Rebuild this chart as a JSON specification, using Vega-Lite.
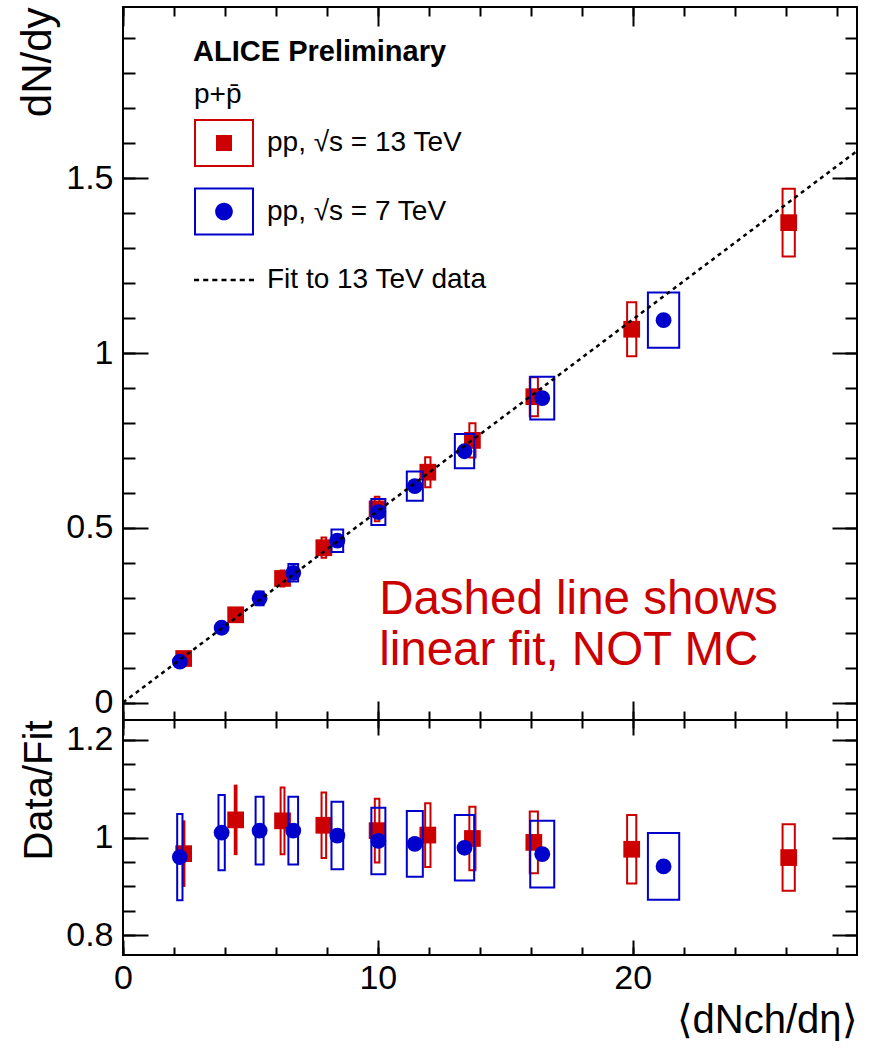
{
  "$schema": "https://vega.github.io/schema/vega-lite/v6.json",
  "padding": {"left": 15, "top": 5, "right": 5, "bottom": 5},
  "spacing": 0,
  "bounds": "flush",
  "config": {
    "view": {"stroke": "#000000", "strokeWidth": 2},
    "font": "Liberation Sans",
    "axis": {"grid": false, "domain": false, "tickColor": "#000000", "tickWidth": 2, "labelFont": "Liberation Sans", "labelFontSize": 34, "labelColor": "#000000", "titleFont": "Liberation Sans", "titleFontSize": 40, "titleFontWeight": "normal", "titleColor": "#000000", "labelFlush": false, "labelOverlap": false}
  },
  "datasets": {
    "red": [
      {"x": 2.38, "xlo": 2.35, "xhi": 2.41, "y": 0.126, "ylo": 0.117, "yhi": 0.135, "r": 0.967, "rlo": 0.901, "rhi": 1.033},
      {"x": 4.42, "xlo": 4.385, "xhi": 4.455, "y": 0.251, "ylo": 0.234, "yhi": 0.268, "r": 1.036, "rlo": 0.966, "rhi": 1.106},
      {"x": 6.26, "xlo": 6.185, "xhi": 6.335, "y": 0.355, "ylo": 0.332, "yhi": 0.378, "r": 1.034, "rlo": 0.966, "rhi": 1.102},
      {"x": 7.88, "xlo": 7.79, "xhi": 7.97, "y": 0.443, "ylo": 0.414, "yhi": 0.472, "r": 1.025, "rlo": 0.958, "rhi": 1.092},
      {"x": 9.97, "xlo": 9.88, "xhi": 10.06, "y": 0.554, "ylo": 0.519, "yhi": 0.589, "r": 1.014, "rlo": 0.949, "rhi": 1.079},
      {"x": 11.96, "xlo": 11.855, "xhi": 12.065, "y": 0.659, "ylo": 0.616, "yhi": 0.702, "r": 1.005, "rlo": 0.94, "rhi": 1.07},
      {"x": 13.71, "xlo": 13.59, "xhi": 13.83, "y": 0.75, "ylo": 0.701, "yhi": 0.799, "r": 0.998, "rlo": 0.933, "rhi": 1.063},
      {"x": 16.12, "xlo": 15.96, "xhi": 16.28, "y": 0.875, "ylo": 0.819, "yhi": 0.931, "r": 0.99, "rlo": 0.927, "rhi": 1.053},
      {"x": 19.96, "xlo": 19.78, "xhi": 20.14, "y": 1.068, "ylo": 0.991, "yhi": 1.145, "r": 0.976, "rlo": 0.906, "rhi": 1.046},
      {"x": 26.12, "xlo": 25.88, "xhi": 26.36, "y": 1.373, "ylo": 1.276, "yhi": 1.47, "r": 0.959, "rlo": 0.891, "rhi": 1.027}
    ],
    "blue": [
      {"x": 2.23, "xlo": 2.126, "xhi": 2.334, "y": 0.117, "ylo": 0.106, "yhi": 0.128, "r": 0.96, "rlo": 0.872, "rhi": 1.048},
      {"x": 3.87, "xlo": 3.746, "xhi": 3.994, "y": 0.214, "ylo": 0.198, "yhi": 0.23, "r": 1.01, "rlo": 0.933, "rhi": 1.087},
      {"x": 5.36, "xlo": 5.203, "xhi": 5.517, "y": 0.298, "ylo": 0.278, "yhi": 0.318, "r": 1.014, "rlo": 0.945, "rhi": 1.083},
      {"x": 6.68, "xlo": 6.49, "xhi": 6.87, "y": 0.371, "ylo": 0.346, "yhi": 0.396, "r": 1.014, "rlo": 0.945, "rhi": 1.083},
      {"x": 8.41, "xlo": 8.18, "xhi": 8.64, "y": 0.463, "ylo": 0.431, "yhi": 0.495, "r": 1.004, "rlo": 0.935, "rhi": 1.073},
      {"x": 10.02, "xlo": 9.745, "xhi": 10.295, "y": 0.545, "ylo": 0.508, "yhi": 0.582, "r": 0.993, "rlo": 0.925, "rhi": 1.061},
      {"x": 11.45, "xlo": 11.136, "xhi": 11.764, "y": 0.619, "ylo": 0.577, "yhi": 0.661, "r": 0.987, "rlo": 0.92, "rhi": 1.054},
      {"x": 13.4, "xlo": 13.021, "xhi": 13.779, "y": 0.719, "ylo": 0.67, "yhi": 0.768, "r": 0.979, "rlo": 0.912, "rhi": 1.046},
      {"x": 16.45, "xlo": 15.979, "xhi": 16.921, "y": 0.871, "ylo": 0.81, "yhi": 0.932, "r": 0.966, "rlo": 0.898, "rhi": 1.034},
      {"x": 21.21, "xlo": 20.596, "xhi": 21.824, "y": 1.094, "ylo": 1.015, "yhi": 1.173, "r": 0.941, "rlo": 0.873, "rhi": 1.009}
    ],
    "fit": [
      {"x": 0, "y": 0, "r": 1},
      {"x": 28.8, "y": 1.578, "r": 1}
    ],
    "series": [
      {"series": "pp, √s = 13 TeV"},
      {"series": "pp, √s = 7 TeV"},
      {"series": "Fit to 13 TeV data"}
    ],
    "notes": [
      {"label": "ALICE Preliminary"},
      {"label": "Dashed line shows\nlinear fit, NOT MC"}
    ]
  },
  "vconcat": [
    {
      "width": 734,
      "height": 713,
      "resolve": {"axis": {"x": "independent", "y": "independent"}},
      "layer": [
        {
          "data": {"name": "fit"},
          "mark": {"type": "point", "opacity": 0},
          "encoding": {
            "x": {"field": "x", "type": "quantitative", "scale": {"domain": [0, 28.8], "nice": false, "zero": false},
                  "axis": {"orient": "bottom", "values": [0, 10, 20], "tickSize": -19, "labels": false, "title": null}},
            "y": {"field": "y", "type": "quantitative", "scale": {"domain": [-0.05, 1.99], "nice": false, "zero": false},
                  "axis": {"orient": "left", "values": [0, 0.5, 1, 1.5], "tickSize": -25, "labelPadding": 35, "format": "~g", "title": "dN/dy", "titleFontSize": 42, "titleAnchor": "end", "titlePadding": 6}}
          }
        },
        {
          "data": {"name": "fit"},
          "mark": {"type": "point", "opacity": 0},
          "encoding": {
            "x": {"field": "x", "type": "quantitative",
                  "axis": {"orient": "bottom", "values": [0, 2, 4, 6, 8, 10, 12, 14, 16, 18, 20, 22, 24, 26, 28], "tickSize": -9, "labels": false, "title": null}},
            "y": {"field": "y", "type": "quantitative",
                  "axis": {"orient": "left", "values": [0, 0.1, 0.2, 0.3, 0.4, 0.5, 0.6, 0.7, 0.8, 0.9, 1, 1.1, 1.2, 1.3, 1.4, 1.5, 1.6, 1.7, 1.8, 1.9], "tickSize": -12, "labels": false, "title": null}}
          }
        },
        {
          "data": {"name": "fit"},
          "mark": {"type": "point", "opacity": 0},
          "encoding": {
            "x": {"field": "x", "type": "quantitative",
                  "axis": {"orient": "top", "values": [0, 10, 20], "tickSize": -19, "labels": false, "title": null}},
            "y": {"field": "y", "type": "quantitative",
                  "axis": {"orient": "right", "values": [0, 0.5, 1, 1.5], "tickSize": -25, "labels": false, "title": null}}
          }
        },
        {
          "data": {"name": "fit"},
          "mark": {"type": "point", "opacity": 0},
          "encoding": {
            "x": {"field": "x", "type": "quantitative",
                  "axis": {"orient": "top", "values": [0, 2, 4, 6, 8, 10, 12, 14, 16, 18, 20, 22, 24, 26, 28], "tickSize": -9, "labels": false, "title": null}},
            "y": {"field": "y", "type": "quantitative",
                  "axis": {"orient": "right", "values": [0, 0.1, 0.2, 0.3, 0.4, 0.5, 0.6, 0.7, 0.8, 0.9, 1, 1.1, 1.2, 1.3, 1.4, 1.5, 1.6, 1.7, 1.8, 1.9], "tickSize": -12, "labels": false, "title": null}}
          }
        },
        {
          "data": {"name": "red"},
          "mark": {"type": "rect", "filled": false, "stroke": "#cc0000", "strokeWidth": 2},
          "encoding": {
            "x": {"field": "xlo", "type": "quantitative", "axis": null},
            "x2": {"field": "xhi"},
            "y": {"field": "ylo", "type": "quantitative", "axis": null},
            "y2": {"field": "yhi"}
          }
        },
        {
          "data": {"name": "red"},
          "mark": {"type": "point", "shape": "square", "filled": true, "size": 280, "color": "#cc0000", "opacity": 1},
          "encoding": {
            "x": {"field": "x", "type": "quantitative", "axis": null},
            "y": {"field": "y", "type": "quantitative", "axis": null}
          }
        },
        {
          "data": {"name": "blue"},
          "mark": {"type": "rect", "filled": false, "stroke": "#0000cc", "strokeWidth": 2},
          "encoding": {
            "x": {"field": "xlo", "type": "quantitative", "axis": null},
            "x2": {"field": "xhi"},
            "y": {"field": "ylo", "type": "quantitative", "axis": null},
            "y2": {"field": "yhi"}
          }
        },
        {
          "data": {"name": "blue"},
          "mark": {"type": "point", "shape": "circle", "filled": true, "size": 250, "color": "#0000cc", "opacity": 1},
          "encoding": {
            "x": {"field": "x", "type": "quantitative", "axis": null},
            "y": {"field": "y", "type": "quantitative", "axis": null}
          }
        },
        {
          "data": {"name": "fit"},
          "mark": {"type": "line", "color": "#000000", "strokeWidth": 2.5, "strokeDash": [4, 4]},
          "encoding": {
            "x": {"field": "x", "type": "quantitative", "axis": null},
            "y": {"field": "y", "type": "quantitative", "axis": null}
          }
        },
        {
          "data": {"name": "series"},
          "transform": [{"filter": "false"}],
          "mark": {"type": "point", "filled": true, "size": 3600, "opacity": 1},
          "encoding": {
            "color": {"field": "series", "type": "nominal",
              "scale": {"domain": ["pp, √s = 13 TeV", "pp, √s = 7 TeV", "Fit to 13 TeV data"], "range": ["#cc0000", "#0000cc", "#000000"]},
              "legend": {"title": "p+p̄", "orient": "none", "legendX": 71, "legendY": 74, "padding": 0, "titleFont": "Liberation Sans", "titleFontSize": 28, "titleFontWeight": "normal", "titleColor": "#000000", "titlePadding": 4, "labelFont": "Liberation Sans", "labelFontSize": 28, "labelColor": "#000000", "labelOffset": 13, "labelLimit": 500, "rowPadding": 14.5, "symbolSize": 3600, "symbolStrokeWidth": 0}},
            "shape": {"field": "series", "type": "nominal",
              "scale": {"domain": ["pp, √s = 13 TeV", "pp, √s = 7 TeV", "Fit to 13 TeV data"],
                "range": [
                  "M-1,-0.8H1V0.8H-1Z M-0.933,-0.733V0.733H0.933V-0.733Z M-0.267,-0.267H0.267V0.267H-0.267Z",
                  "M-1,-0.8H1V0.8H-1Z M-0.933,-0.733V0.733H0.933V-0.733Z M0.295,0A0.295,0.295 0 1,1 -0.295,0A0.295,0.295 0 1,1 0.295,0Z",
                  "M-1,-0.04H-0.83V0.04H-1Z M-0.695,-0.04H-0.525V0.04H-0.695Z M-0.39,-0.04H-0.22V0.04H-0.39Z M-0.085,-0.04H0.085V0.04H-0.085Z M0.22,-0.04H0.39V0.04H0.22Z M0.525,-0.04H0.695V0.04H0.525Z M0.83,-0.04H1V0.04H0.83Z"
                ]},
              "legend": {"title": "p+p̄", "orient": "none", "legendX": 71, "legendY": 74, "padding": 0, "titleFont": "Liberation Sans", "titleFontSize": 28, "titleFontWeight": "normal", "titleColor": "#000000", "titlePadding": 4, "labelFont": "Liberation Sans", "labelFontSize": 28, "labelColor": "#000000", "labelOffset": 13, "labelLimit": 500, "rowPadding": 14.5, "symbolSize": 3600, "symbolStrokeWidth": 0}}
          }
        },
        {
          "data": {"name": "notes"},
          "transform": [{"filter": "datum.label == 'ALICE Preliminary'"}],
          "mark": {"type": "text", "font": "Liberation Sans", "fontSize": 29, "fontWeight": "bold", "align": "left", "baseline": "alphabetic", "color": "#000000"},
          "encoding": {
            "x": {"datum": 2.75, "type": "quantitative", "axis": null},
            "y": {"datum": 1.835, "type": "quantitative", "axis": null},
            "text": {"field": "label"}
          }
        },
        {
          "data": {"name": "notes"},
          "transform": [{"filter": "datum.label != 'ALICE Preliminary'"}],
          "mark": {"type": "text", "font": "Liberation Sans", "fontSize": 47.5, "align": "left", "baseline": "alphabetic", "color": "#cc0000", "lineBreak": "\n", "lineHeight": 51},
          "encoding": {
            "x": {"datum": 10.05, "type": "quantitative", "axis": null},
            "y": {"datum": 0.254, "type": "quantitative", "axis": null},
            "text": {"field": "label"}
          }
        }
      ]
    },
    {
      "width": 734,
      "height": 235,
      "resolve": {"axis": {"x": "independent", "y": "independent"}},
      "layer": [
        {
          "data": {"name": "fit"},
          "mark": {"type": "point", "opacity": 0},
          "encoding": {
            "x": {"field": "x", "type": "quantitative", "scale": {"domain": [0, 28.8], "nice": false, "zero": false},
                  "axis": {"orient": "bottom", "values": [0, 10, 20], "tickSize": -15, "labelPadding": 21, "format": "d", "title": "⟨dNch/dη⟩", "titleAnchor": "end", "titlePadding": 5}},
            "y": {"field": "r", "type": "quantitative", "scale": {"domain": [0.76, 1.24], "nice": false, "zero": false},
                  "axis": {"orient": "left", "values": [0.8, 1, 1.2], "tickSize": -25, "labelPadding": 35, "format": "~g", "title": "Data/Fit", "titleAnchor": "end", "titlePadding": 6}}
          }
        },
        {
          "data": {"name": "fit"},
          "mark": {"type": "point", "opacity": 0},
          "encoding": {
            "x": {"field": "x", "type": "quantitative",
                  "axis": {"orient": "bottom", "values": [0, 2, 4, 6, 8, 10, 12, 14, 16, 18, 20, 22, 24, 26, 28], "tickSize": -8, "labels": false, "title": null}},
            "y": {"field": "r", "type": "quantitative",
                  "axis": {"orient": "left", "values": [0.8, 0.85, 0.9, 0.95, 1, 1.05, 1.1, 1.15, 1.2], "tickSize": -12, "labels": false, "title": null}}
          }
        },
        {
          "data": {"name": "fit"},
          "mark": {"type": "point", "opacity": 0},
          "encoding": {
            "x": {"field": "x", "type": "quantitative",
                  "axis": {"orient": "top", "values": [0, 10, 20], "tickSize": -15, "labels": false, "title": null}},
            "y": {"field": "r", "type": "quantitative",
                  "axis": {"orient": "right", "values": [0.8, 1, 1.2], "tickSize": -25, "labels": false, "title": null}}
          }
        },
        {
          "data": {"name": "fit"},
          "mark": {"type": "point", "opacity": 0},
          "encoding": {
            "x": {"field": "x", "type": "quantitative",
                  "axis": {"orient": "top", "values": [0, 2, 4, 6, 8, 10, 12, 14, 16, 18, 20, 22, 24, 26, 28], "tickSize": -8, "labels": false, "title": null}},
            "y": {"field": "r", "type": "quantitative",
                  "axis": {"orient": "right", "values": [0.8, 0.85, 0.9, 0.95, 1, 1.05, 1.1, 1.15, 1.2], "tickSize": -12, "labels": false, "title": null}}
          }
        },
        {
          "data": {"name": "red"},
          "mark": {"type": "rect", "filled": false, "stroke": "#cc0000", "strokeWidth": 2},
          "encoding": {
            "x": {"field": "xlo", "type": "quantitative", "axis": null},
            "x2": {"field": "xhi"},
            "y": {"field": "rlo", "type": "quantitative", "axis": null},
            "y2": {"field": "rhi"}
          }
        },
        {
          "data": {"name": "red"},
          "mark": {"type": "point", "shape": "square", "filled": true, "size": 280, "color": "#cc0000", "opacity": 1},
          "encoding": {
            "x": {"field": "x", "type": "quantitative", "axis": null},
            "y": {"field": "r", "type": "quantitative", "axis": null}
          }
        },
        {
          "data": {"name": "blue"},
          "mark": {"type": "rect", "filled": false, "stroke": "#0000cc", "strokeWidth": 2},
          "encoding": {
            "x": {"field": "xlo", "type": "quantitative", "axis": null},
            "x2": {"field": "xhi"},
            "y": {"field": "rlo", "type": "quantitative", "axis": null},
            "y2": {"field": "rhi"}
          }
        },
        {
          "data": {"name": "blue"},
          "mark": {"type": "point", "shape": "circle", "filled": true, "size": 250, "color": "#0000cc", "opacity": 1},
          "encoding": {
            "x": {"field": "x", "type": "quantitative", "axis": null},
            "y": {"field": "r", "type": "quantitative", "axis": null}
          }
        }
      ]
    }
  ]
}
